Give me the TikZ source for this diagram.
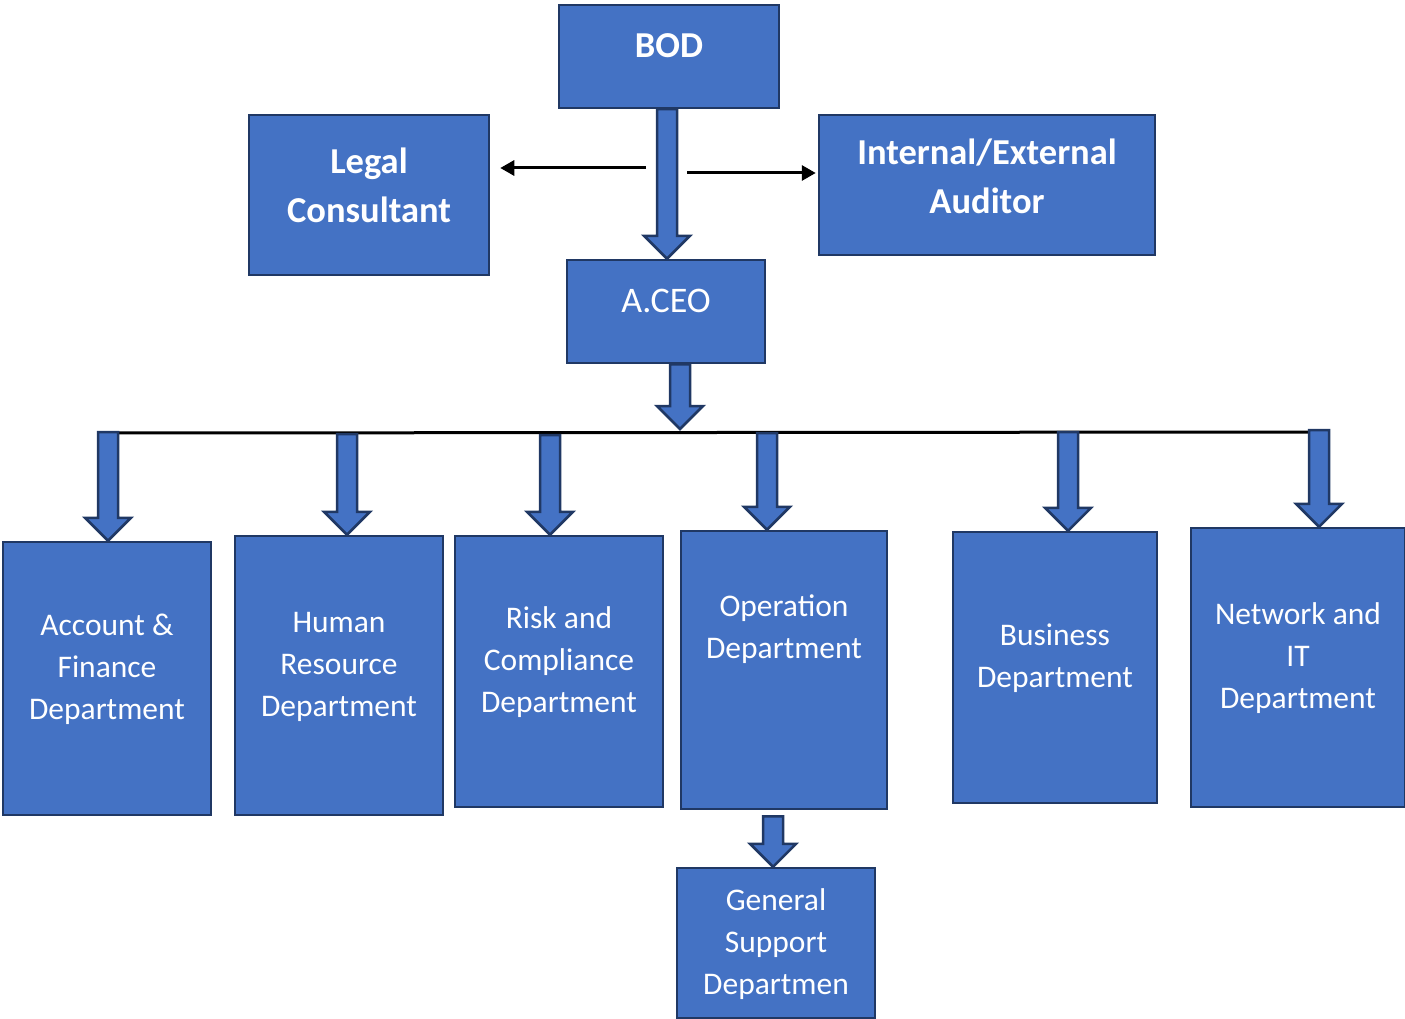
\documentclass[tikz,border=0pt]{standalone}
\usepackage{fontspec}
\setmainfont{Carlito}
\usetikzlibrary{arrows.meta,calc}
\definecolor{boxblue}{HTML}{4472C4}
\definecolor{boxedge}{HTML}{203864}
\tikzset{
  box/.style={draw=boxedge, fill=boxblue, line width=2.5pt, inner sep=0pt},
  lbl/.style={text=white, align=center, inner sep=0pt, font=\fontsize{31.5}{42}\selectfont},
  blbl/.style={text=white, align=center, inner sep=0pt, font=\bfseries\fontsize{36.5}{49}\selectfont},
  barrow/.style={draw=boxedge, fill=boxblue, line width=2.5pt, line join=miter},
  thinarrow/.style={draw=black, line width=3pt, -{Triangle[length=14pt,width=15pt]}},
  hline/.style={draw=black, line width=3pt}
}
\newcommand{\blockarrow}[2]{%
  \draw[barrow] let \p1=(#1), \p2=(#2) in
  (\x1-10pt,\y1) -- (\x1+10pt,\y1) -- (\x1+10pt,\y2+23pt) -- (\x1+23pt,\y2+23pt)
  -- (\x1,\y2) -- (\x1-23pt,\y2+23pt) -- (\x1-10pt,\y2+23pt) -- cycle;}
\begin{document}
\begin{tikzpicture}[x=1pt,y=-1pt]
\useasboundingbox (0,0) rectangle (1405,1019);
% boxes
\node[box, minimum width=220pt, minimum height=103pt] (bod) at (669,56.5) {};
\node[box, minimum width=240pt, minimum height=160pt] (legal) at (369,195) {};
\node[box, minimum width=336pt, minimum height=140pt] (audit) at (987,185) {};
\node[box, minimum width=198pt, minimum height=103pt] (aceo) at (666,311.5) {};
\node[box, minimum width=208pt, minimum height=273pt] (acc) at (107,678.5) {};
\node[box, minimum width=208pt, minimum height=279pt] (hr) at (339,675.5) {};
\node[box, minimum width=208pt, minimum height=271pt] (risk) at (559,671.5) {};
\node[box, minimum width=206pt, minimum height=278pt] (ops) at (784,670) {};
\node[box, minimum width=204pt, minimum height=271pt] (bus) at (1055,667.5) {};
\node[box, minimum width=214pt, minimum height=279pt] (net) at (1298,667.5) {};
\node[box, minimum width=198pt, minimum height=150pt] (gen) at (776,943) {};
% labels
\node[blbl] at ([yshift=11pt]bod.center) {BOD};
\node[blbl] at ([yshift=10pt]legal.center) {Legal\\Consultant};
\node[blbl] at ([yshift=9pt]audit.center) {Internal/External\\Auditor};
\node[lbl, font=\fontsize{36}{42}\selectfont] at ([yshift=11pt]aceo.center) {A.CEO};
\node[lbl] at ([yshift=9pt]acc.center) {Account \&\\Finance\\Department};
\node[lbl] at ([yshift=9pt]hr.center) {Human\\Resource\\Department};
\node[lbl] at ([yshift=9pt]risk.center) {Risk and\\Compliance\\Department};
\node[lbl] at ([yshift=41pt]ops.center) {Operation\\Department};
\node[lbl] at ([yshift=9pt]bus.center) {Business\\Department};
\node[lbl] at ([yshift=9pt]net.center) {Network and\\IT\\Department};
\node[lbl] at ([yshift=-1pt]gen.center) {General\\Support\\Departmen};
% thin arrows
\coordinate (la) at (646,168);
\coordinate (ra) at (687,173);
\draw[thinarrow, shorten >=10pt] (la) -- (la -| legal.east);
\draw[thinarrow, shorten >=2pt] (ra) -- (ra -| audit.west);
% horizontal bus line
\coordinate (hl) at (108,433);
\coordinate (hrt) at (1319,432);
\draw[hline] (hl) -- (hrt);
% block arrows
\coordinate (bodout) at ([xshift=-2pt]bod.south);
\blockarrow{bodout}{aceo.north}
\coordinate (hub) at (680,429);
\coordinate (aceoout) at ([xshift=14pt]aceo.south);
\blockarrow{aceoout}{hub}
\coordinate (a1) at (108,432);
\coordinate (a2) at (347,434);
\coordinate (a3) at (550,435);
\coordinate (a4) at (767,433);
\coordinate (a5) at (1068,432);
\coordinate (a6) at (1319,430);
\blockarrow{a1}{acc.north}
\blockarrow{a2}{hr.north}
\blockarrow{a3}{risk.north}
\blockarrow{a4}{ops.north}
\blockarrow{a5}{bus.north}
\blockarrow{a6}{net.north}
\coordinate (opsout) at ([xshift=-11pt,yshift=-6pt]ops.south);
\blockarrow{opsout}{gen.north}
\end{tikzpicture}
\end{document}
